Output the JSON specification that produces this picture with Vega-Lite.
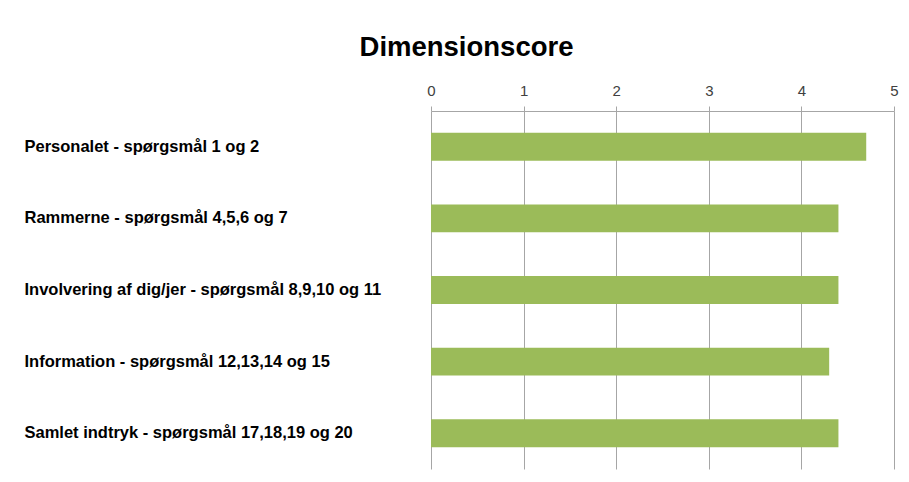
{
  "$schema": "https://vega.github.io/schema/vega-lite/v6.json",
  "width": 463,
  "height": 358,
  "autosize": "none",
  "padding": {"left": 431, "top": 111, "right": 15, "bottom": 13},
  "background": "white",
  "title": {
    "text": "Dimensionscore",
    "font": "Liberation Sans",
    "fontSize": 27.5,
    "fontWeight": "bold",
    "color": "black",
    "anchor": "middle",
    "frame": "group",
    "dx": -196,
    "offset": 22
  },
  "data": {
    "values": [
      {"dimension": "Personalet - spørgsmål 1 og 2", "score": 4.7},
      {"dimension": "Rammerne - spørgsmål 4,5,6 og 7", "score": 4.4},
      {"dimension": "Involvering af dig/jer - spørgsmål 8,9,10 og 11", "score": 4.4},
      {"dimension": "Information - spørgsmål 12,13,14 og 15", "score": 4.3},
      {"dimension": "Samlet indtryk - spørgsmål 17,18,19 og 20", "score": 4.4}
    ]
  },
  "mark": {"type": "bar", "color": "#9BBB59"},
  "encoding": {
    "y": {
      "field": "dimension",
      "type": "nominal",
      "sort": null,
      "scale": {"paddingInner": 0.61, "paddingOuter": 0.305},
      "axis": {
        "title": null,
        "orient": "left",
        "domain": false,
        "ticks": false,
        "labelAlign": "left",
        "labelPadding": 407,
        "labelFont": "Liberation Sans",
        "labelFontSize": 16.5,
        "labelFontWeight": "bold",
        "labelColor": "black",
        "labelLimit": 420
      }
    },
    "x": {
      "field": "score",
      "type": "quantitative",
      "scale": {"domain": [0, 5], "nice": false},
      "axis": {
        "title": null,
        "orient": "top",
        "values": [0, 1, 2, 3, 4, 5],
        "grid": true,
        "gridColor": "#a6a6a6",
        "domainColor": "#a6a6a6",
        "tickColor": "#a6a6a6",
        "tickSize": 5,
        "labelPadding": 8,
        "labelFont": "Liberation Sans",
        "labelFontSize": 15,
        "labelColor": "#404040",
        "labelFlush": false
      }
    }
  },
  "config": {"view": {"stroke": null}}
}
